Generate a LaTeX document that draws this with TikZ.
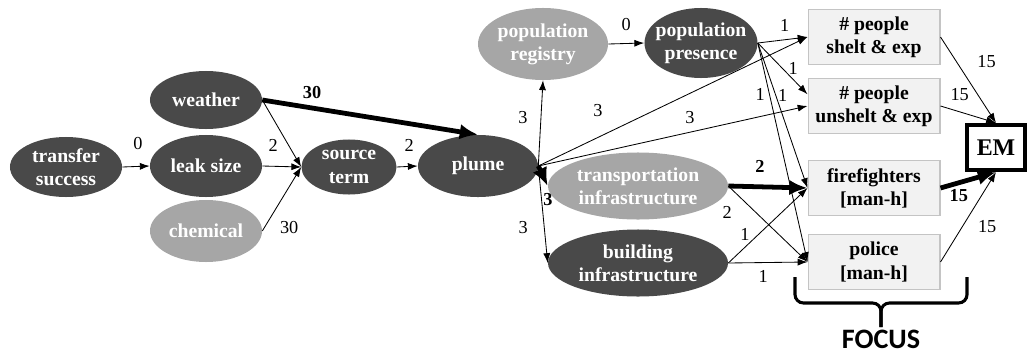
\documentclass[tikz,border=0pt]{standalone}
\usepackage{fontspec}
\setmainfont{Liberation Serif}[Ligatures=TeX]
\newfontfamily\labelfont{Liberation Serif}
\newfontfamily\focusfont{Carlito}
\usepackage{tikz}
\usetikzlibrary{positioning, arrows.meta, calc, shapes.geometric}
\usepackage{xcolor}
\definecolor{nodeDark}{HTML}{494949}
\definecolor{nodeLight}{HTML}{A6A6A6}
\definecolor{boxFill}{HTML}{F2F2F2}
\definecolor{boxLine}{HTML}{C4C4C4}

\tikzset{
  varnode/.style={ellipse, inner xsep=-4pt, inner ysep=-4pt, align=center,
    font=\labelfont\fontsize{14}{16.5}\selectfont\bfseries, text=white},
  darknode/.style={varnode, fill=nodeDark},
  lightnode/.style={varnode, fill=nodeLight},
  outbox/.style={rectangle, fill=boxFill, draw=boxLine, line width=1.4pt,
    minimum width=3.275cm, minimum height=1.375cm, align=center,
    font=\labelfont\fontsize{14}{16.5}\selectfont\bfseries},
  flow/.style={-{Latex[length=7pt,width=5pt]}, line width=0.6pt},
  heavyflow/.style={-{Latex[length=13pt,width=11pt]}, line width=3.4pt},
  wt/.style={inner sep=0pt, font=\labelfont\fontsize{13}{13}\selectfont},
  wtbold/.style={wt, font=\labelfont\fontsize{13}{13}\selectfont\bfseries}
}

\begin{document}
\begin{tikzpicture}[x=0.025cm, y=-0.025cm]
        \useasboundingbox (0,0) rectangle (1030,355);
        % Source chain
        \node[darknode, minimum width=2.8cm, minimum height=1.5cm] (transfer) at (66,167) {transfer\\success};
        \node[darknode, minimum width=2.8cm, minimum height=1.45cm] (weather) at (206,100) {weather};
        \node[darknode, minimum width=2.8cm, minimum height=1.55cm] (leak) at (206,166) {leak size};
        \node[lightnode, minimum width=2.8cm, minimum height=1.55cm] (chemical) at (206,231) {chemical};
        \node[darknode, minimum width=2.375cm, minimum height=1.375cm] (source) at (349,167) {source\\term};
        \node[darknode, minimum width=3cm, minimum height=1.55cm] (plume) at (478,166) {plume};
        % Exposure and infrastructure
        \node[lightnode, minimum width=3.25cm, minimum height=1.8cm] (registry) at (543,44) {population\\registry};
        \node[darknode, minimum width=2.825cm, minimum height=1.75cm] (presence) at (701,43) {population\\presence};
        \node[lightnode, minimum width=4.5cm, minimum height=1.675cm] (transport) at (638,186) {transportation\\infrastructure};
        \node[darknode, minimum width=4.5cm, minimum height=1.675cm] (building) at (638,263) {building\\infrastructure};
        % Outcome boxes
        \node[outbox] (shelt) at (874,37) {\# people\\shelt \& exp};
        \node[outbox] (unshelt) at (874,106) {\# people\\unshelt \& exp};
        \node[outbox] (fire) at (874,188) {firefighters\\{[man-h]}};
        \node[outbox] (police) at (874,262) {police\\{[man-h]}};
        \node[rectangle, draw, line width=3pt, fill=white, minimum width=1.45cm, minimum height=1.125cm,
          font=\labelfont\fontsize{17}{17}\selectfont\bfseries] (em) at (996,147.5) {EM};

        % Links, source side
        \draw[flow] (transfer.east) -- node[wt, shift={(2,-23)}] (w1) {0} (leak.west);
        \draw[flow] (leak.east) -- node[wt, pos=0.28, shift={(0,-21)}] (w2) {2} (source.west);
        \draw[flow] (weather.east) -- (source.west);
        \draw[flow] (chemical.east) -- node[wt, pos=0.1, shift={(23,3)}] (w3) {30} (source.west);
        \draw[heavyflow] (weather.east) -- node[wtbold, pos=0.24, shift={(-2,-16)}] (w4) {30} (plume.north);
        \draw[flow] (source.east) -- node[wt, shift={(2,-21)}] (w5) {2} (plume.west);
        % Links out of plume
        \draw[flow] (plume.east) -- node[wt, pos=0.56, shift={(-18,0)}] (w6) {3} (registry.south);
        \draw[flow] (plume.east) -- node[wt, pos=0.222, shift={(0,-27)}] (w7) {3} (shelt.west);
        \draw[flow] (plume.east) -- node[wt, pos=0.563, shift={(0,-15)}] (w8) {3} (unshelt.west);
        \draw[heavyflow] (plume.east) -- node[wtbold, shift={(5,24)}] (w9) {3} (transport.west);
        \draw[flow] (plume.east) -- node[wt, pos=0.63, shift={(-21,0)}] (w10) {3} (building.west);
        % Population
        \draw[flow] (registry.east) -- node[wt, shift={(0,-19)}] (w11) {0} (presence.west);
        \draw[flow] (presence.east) -- node[wt, shift={(2,-15)}] (w12) {1} (shelt.west);
        \draw[flow] (presence.east) -- node[wt, pos=0.49, shift={(11,0)}] (w13) {1} (unshelt.170);
        \draw[flow] (presence.east) -- node[wt, pos=0.36, shift={(7,0)}] (w14) {1} (fire.west);
        \draw[flow] (presence.east) -- node[wt, pos=0.237, shift={(-9.5,0)}] (w15) {1} (police.west);
        % Infrastructure
        \draw[heavyflow] (transport.east) -- node[wtbold, pos=0.4, shift={(0,-20)}] (w16) {2} (fire.west);
        \draw[flow] (transport.east) -- node[wt, pos=0.05, shift={(-5,23)}] (w17) {2} (police.west);
        \draw[flow] (building.east) -- node[wt, pos=0.21, shift={(0,-13)}] (w18) {1} (fire.west);
        \draw[flow] (building.east) -- node[wt, pos=0.44, shift={(0,14)}] (w19) {1} (police.west);
        % Into EM
        \draw[flow] (shelt.east) -- node[wt, pos=0.29, shift={(30,0)}] (w20) {15} (em.north);
        \draw[flow] (unshelt.east) -- node[wt, pos=0.345, shift={(0,-17)}] (w21) {15} (em.north);
        \draw[heavyflow] (fire.east) -- node[wtbold, pos=0.33, shift={(0,13)}] (w22) {15} (em.south);
        \draw[flow] (police.east) -- node[wt, pos=0.39, shift={(25,0)}] (w23) {15} (em.south);

        % Focus brace
        \coordinate (braceL) at (795,277);
        \coordinate (braceR) at (967,277);
        \coordinate (braceTip) at (881,327);
        \draw[line width=2.2pt, rounded corners=6pt] (braceL) |- ($(braceTip)+(0,-24)$) -- (braceTip);
        \draw[line width=2.2pt, rounded corners=6pt] (braceR) |- ($(braceTip)+(0,-24)$) -- (braceTip);
        \node[font=\focusfont\fontsize{20}{20}\selectfont\bfseries, inner sep=0pt] (focus) at (881,339) {FOCUS};
      \end{tikzpicture}
\end{document}
